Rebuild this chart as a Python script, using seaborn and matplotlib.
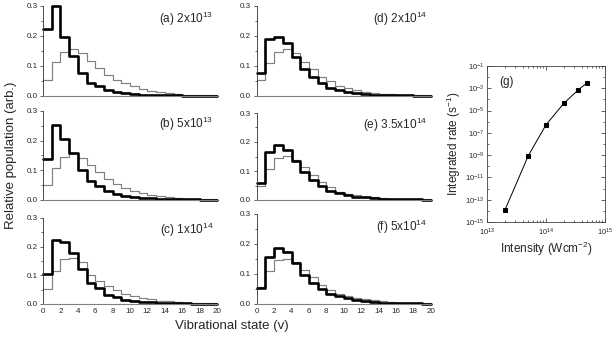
import numpy as np
import pandas as pd
import matplotlib
matplotlib.use("Agg")
import matplotlib.pyplot as plt
import matplotlib.ticker as mticker
import seaborn as sns

# ---------------- data ----------------
v = list(range(20))  # vibrational states 0..19 (bins v..v+1)

black_a = [0.223, 0.300, 0.198, 0.133, 0.078, 0.042, 0.033, 0.020, 0.013, 0.010,
           0.007, 0.005, 0.004, 0.003, 0.002, 0.002, 0.001, 0.001, 0.001, 0.001]
gray_a = [0.053, 0.114, 0.148, 0.156, 0.144, 0.117, 0.092, 0.070, 0.053, 0.042,
          0.032, 0.024, 0.018, 0.013, 0.010, 0.007, 0.005, 0.004, 0.003, 0.002]

black_b = [0.137, 0.253, 0.206, 0.160, 0.101, 0.065, 0.047, 0.031, 0.020, 0.015,
           0.011, 0.008, 0.006, 0.004, 0.003, 0.003, 0.002, 0.002, 0.001, 0.001]
gray_b = [0.051, 0.107, 0.146, 0.157, 0.140, 0.118, 0.096, 0.070, 0.054, 0.039,
          0.030, 0.023, 0.017, 0.012, 0.009, 0.007, 0.005, 0.004, 0.003, 0.002]

black_c = [0.106, 0.224, 0.215, 0.178, 0.122, 0.073, 0.056, 0.033, 0.023, 0.015,
           0.011, 0.008, 0.006, 0.004, 0.003, 0.002, 0.002, 0.001, 0.001, 0.001]
gray_c = [0.052, 0.114, 0.157, 0.160, 0.147, 0.102, 0.081, 0.064, 0.050, 0.036,
          0.028, 0.021, 0.016, 0.012, 0.009, 0.007, 0.005, 0.004, 0.003, 0.002]

black_d = [0.078, 0.189, 0.198, 0.176, 0.131, 0.089, 0.062, 0.042, 0.028, 0.020,
           0.014, 0.010, 0.007, 0.005, 0.004, 0.003, 0.002, 0.002, 0.001, 0.001]
gray_d = [0.053, 0.111, 0.148, 0.156, 0.142, 0.114, 0.089, 0.062, 0.049, 0.033,
          0.026, 0.020, 0.015, 0.011, 0.008, 0.006, 0.005, 0.004, 0.003, 0.002]

black_e = [0.058, 0.167, 0.190, 0.173, 0.133, 0.098, 0.069, 0.048, 0.032, 0.023,
           0.016, 0.012, 0.009, 0.006, 0.005, 0.004, 0.003, 0.002, 0.002, 0.001]
gray_e = [0.048, 0.106, 0.144, 0.152, 0.137, 0.115, 0.087, 0.063, 0.044, 0.029,
          0.022, 0.016, 0.012, 0.009, 0.007, 0.005, 0.004, 0.003, 0.002, 0.002]

black_f = [0.053, 0.157, 0.187, 0.172, 0.137, 0.096, 0.070, 0.050, 0.034, 0.026,
           0.019, 0.014, 0.010, 0.007, 0.005, 0.004, 0.003, 0.002, 0.002, 0.001]
gray_f = [0.057, 0.109, 0.146, 0.151, 0.139, 0.114, 0.090, 0.064, 0.048, 0.034,
          0.027, 0.021, 0.016, 0.012, 0.009, 0.007, 0.005, 0.004, 0.003, 0.002]

panel_labels = [r"(a) 2x10$^{13}$", r"(b) 5x10$^{13}$", r"(c) 1x10$^{14}$",
                r"(d) 2x10$^{14}$", r"(e) 3.5x10$^{14}$", r"(f) 5x10$^{14}$"]

intensity = [2e13, 5e13, 1e14, 2e14, 3.5e14, 5e14]
rate = [1.1e-14, 8.7e-10, 5.3e-7, 4.4e-5, 7.0e-4, 3.2e-3]

x_ticks = [0, 2, 4, 6, 8, 10, 12, 14, 16, 18, 20]

# ---------------- style ----------------
sns.set_style("ticks")
plt.rcParams["font.family"] = ["Liberation Sans", "DejaVu Sans"]
plt.rcParams["mathtext.fontset"] = "custom"
plt.rcParams["mathtext.rm"] = "Liberation Sans"
plt.rcParams["mathtext.it"] = "Liberation Sans:italic"

fig = plt.figure(figsize=(6.13, 3.40), dpi=100)
H = 340.0
W = 613.0

def rect(x0, x1, ytop, ybot):
    return [x0 / W, 1 - ybot / H, (x1 - x0) / W, (ybot - ytop) / H]

col_x = [(43, 217), (256.7, 430.7)]
rows_left = [(6, 96), (111, 200), (218, 304)]
rows_right = [(6, 96), (113, 200), (214, 304)]

series = [(black_a, gray_a), (black_b, gray_b), (black_c, gray_c),
          (black_d, gray_d), (black_e, gray_e), (black_f, gray_f)]

tick_fs = 5.8
for i, (blk, gry) in enumerate(series):
    col = i // 3
    row = i % 3
    rows = rows_left if col == 0 else rows_right
    ax = fig.add_axes(rect(col_x[col][0], col_x[col][1], rows[row][0], rows[row][1]))
    df = pd.DataFrame({"v": v, "black": blk, "gray": gry})
    sns.histplot(data=df, x="v", weights="gray", bins=20, binrange=(0, 20),
                 element="step", fill=False, color="#808080", linewidth=0.85, ax=ax)
    sns.histplot(data=df, x="v", weights="black", bins=20, binrange=(0, 20),
                 element="step", fill=False, color="black", linewidth=1.9, ax=ax)
    for ln in ax.lines:
        ln.set_clip_on(False)
    ax.set_xlim(0, 20)
    ax.set_ylim(0, 0.3)
    ax.set_xlabel("")
    ax.set_ylabel("")
    sns.despine(ax=ax)
    ax.spines["bottom"].set_color("#808080")
    ax.spines["bottom"].set_linewidth(0.8)
    ax.spines["left"].set_color("#303030")
    ax.spines["left"].set_linewidth(0.6)
    ax.set_yticks([0.0, 0.1, 0.2, 0.3])
    ax.yaxis.set_major_formatter(mticker.FormatStrFormatter("%.1f"))
    ax.yaxis.set_minor_locator(mticker.MultipleLocator(0.05))
    ax.tick_params(axis="y", which="major", length=2.5, width=0.5, labelsize=tick_fs, pad=1.5)
    ax.tick_params(axis="y", which="minor", length=1.5, width=0.5)
    ax.set_xticks(x_ticks)
    if row == 2:
        ax.tick_params(axis="x", length=0, labelsize=tick_fs, pad=3)
    else:
        ax.tick_params(axis="x", length=0, labelbottom=False)
    ax.text(0.98, 0.86, panel_labels[i], transform=ax.transAxes,
            ha="right", va="center", fontsize=8.5)

fig.text(11 / W, 1 - 155 / H, "Relative population (arb.)", rotation=90,
         ha="center", va="center", fontsize=9.5)
fig.text(232 / W, 1 - 326 / H, "Vibrational state (v)", ha="center",
         va="center", fontsize=9.5)

# ---------------- panel (g) ----------------
axg = fig.add_axes(rect(487, 605, 66, 222))
dfg = pd.DataFrame({"intensity": intensity, "rate": rate})
sns.lineplot(data=dfg, x="intensity", y="rate", color="black", linewidth=0.7,
             marker="s", markersize=3.5, markeredgecolor="black", ax=axg)
axg.set_xscale("log")
axg.set_yscale("log")
axg.set_xlim(1e13, 1e15)
axg.set_ylim(1e-15, 1e-1)
axg.set_xticks([1e13, 1e14, 1e15])
axg.set_yticks([10.0 ** k for k in range(-15, 0, 2)])
axg.xaxis.set_minor_locator(mticker.LogLocator(base=10, subs=np.arange(2, 10), numticks=20))
axg.yaxis.set_minor_locator(mticker.FixedLocator([10.0 ** k for k in range(-14, 0, 2)]))
axg.xaxis.set_minor_formatter(mticker.NullFormatter())
axg.yaxis.set_minor_formatter(mticker.NullFormatter())
axg.tick_params(which="both", direction="in", top=True, right=True, width=0.5)
axg.tick_params(which="major", length=3, labelsize=5.5)
axg.tick_params(axis="x", which="major", pad=3.5)
axg.tick_params(axis="y", which="major", pad=2)
axg.tick_params(which="minor", length=1.5)
for sp in axg.spines.values():
    sp.set_linewidth(0.6)
    sp.set_color("#404040")
axg.set_xlabel(r"Intensity (Wcm$^{-2}$)", fontsize=8.5, labelpad=1)
axg.set_ylabel(r"Integrated rate (s$^{-1}$)", fontsize=8.5, labelpad=1)
axg.text(0.1, 0.9, "(g)", transform=axg.transAxes, ha="left", va="center", fontsize=8.5)

fig.savefig("out.png", dpi=100)
